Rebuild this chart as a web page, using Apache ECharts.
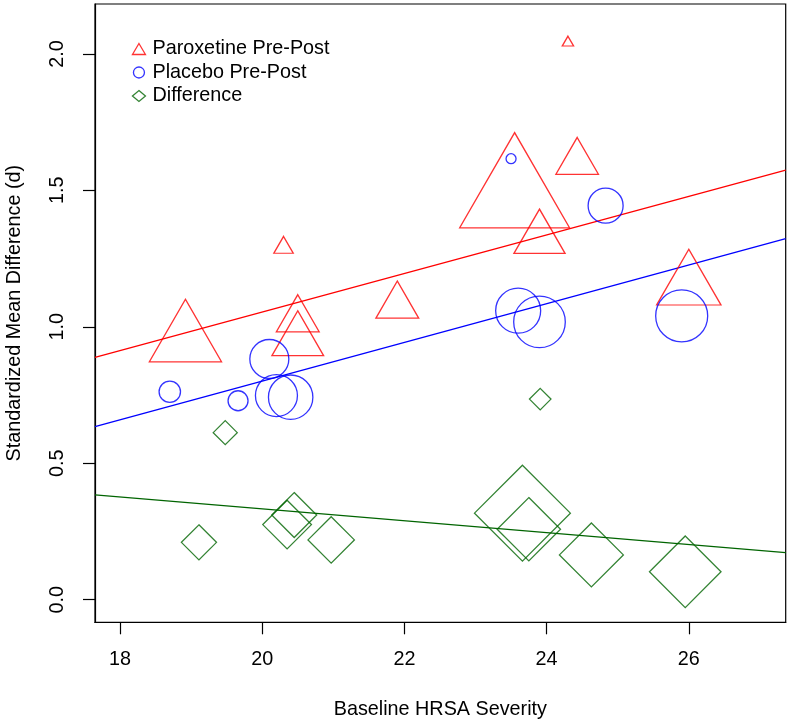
<!DOCTYPE html>
<html>
<head>
<meta charset="utf-8">
<script src="https://cdn.jsdelivr.net/npm/echarts@6/dist/echarts.min.js"></script>
<style>html,body{margin:0;padding:0;background:#fff}#c{width:790px;height:722px}</style>
</head>
<body>
<div id="c"></div>
<script>
// ---- data ----
var seriesNames = ['Paroxetine Pre-Post', 'Placebo Pre-Post', 'Difference'];

var paroxetineX = [18.92, 20.30, 20.50, 20.50, 21.90, 23.55, 23.90, 24.30, 24.43, 26.00];
var paroxetineY = [0.948, 1.290, 1.027, 0.949, 1.077, 1.479, 1.323, 2.041, 1.604, 1.148];
var paroxetineWeight = [26.8, 7.2, 15.9, 19.2, 15.9, 40.8, 19.0, 4.2, 15.8, 23.9];

var placeboX = [18.70, 19.66, 20.10, 20.20, 20.40, 23.50, 23.60, 23.90, 24.83, 25.90];
var placeboY = [0.762, 0.729, 0.882, 0.748, 0.742, 1.616, 1.059, 1.018, 1.444, 1.040];
var placeboWeight = [10.7, 10.0, 19.5, 21.0, 22.2, 5.0, 22.5, 25.8, 17.5, 26.0];

var differenceX = [19.11, 19.48, 20.35, 20.45, 20.97, 23.66, 23.75, 23.91, 24.63, 25.95];
var differenceY = [0.210, 0.612, 0.275, 0.310, 0.219, 0.317, 0.258, 0.735, 0.164, 0.102];
var differenceWeight = [12.4, 8.5, 17.2, 15.9, 16.4, 33.9, 22.4, 7.6, 22.6, 25.3];

// fitted lines (value at left and right edge of plot)
var fitX = [17.648, 27.363];
var paroxetineFitY = [0.888, 1.574];
var placeboFitY = [0.634, 1.323];
var differenceFitY = [0.384, 0.172];

var xTicks = [18, 20, 22, 24, 26];
var yTicks = [0, 0.5, 1.0, 1.5, 2.0];
var xRange = [17.648, 27.363];
var yRange = [-0.083, 2.183];

// ---- styling ----
var RED = '#ff0000', BLUE = '#0000ff', GREEN = '#006400';
var FONT = 'Liberation Sans, Arial, Helvetica, sans-serif';
var FS = 19.8;
var LW = 1.3;

function triData(xs, ys, ws) {
  return xs.map(function (x, i) {
    var r = ws[i];
    var w = 2.6936 * r, h = 2.3327 * r;
    return { value: [x, ys[i]], symbolSize: [w, h], symbolOffset: [0, -h / 6] };
  });
}
function circData(xs, ys, ws) {
  return xs.map(function (x, i) {
    return { value: [x, ys[i]], symbolSize: 2 * ws[i] };
  });
}
function diaData(xs, ys, ws) {
  return xs.map(function (x, i) {
    var d = 2.8284 * ws[i];
    return { value: [x, ys[i]], symbolSize: [d, d] };
  });
}
function lineData(xs, ys) {
  return xs.map(function (x, i) { return [x, ys[i]]; });
}
function hollow(c) {
  return { color: 'rgba(0,0,0,0)', borderColor: c, borderWidth: LW };
}

var axisLineStyle = { show: true, onZero: false, lineStyle: { color: '#000', width: 1.2 } };

var chart = echarts.init(document.getElementById('c'), null, { renderer: 'canvas' });
chart.setOption({
  animation: false,
  backgroundColor: '#ffffff',
  textStyle: { fontFamily: FONT },
  grid: {
    left: 95, top: 4, right: 4.3, bottom: 99.7,
    containLabel: false, outerBoundsMode: 'none',
    show: true, borderColor: '#000', borderWidth: 1.2, backgroundColor: 'transparent'
  },
  legend: {
    orient: 'vertical',
    left: 126.8, top: 34,
    itemWidth: 13, itemHeight: 11, itemGap: 3.5,
    textStyle: { fontSize: FS, color: '#000', fontFamily: FONT, padding: [0, 0, 0, 2] },
    data: [
      { name: seriesNames[0], icon: 'triangle', itemStyle: hollow(RED) },
      { name: seriesNames[1], icon: 'circle', itemStyle: hollow(BLUE) },
      { name: seriesNames[2], icon: 'diamond', itemStyle: hollow(GREEN) }
    ]
  },
  xAxis: {
    type: 'value', min: xRange[0], max: xRange[1],
    name: 'Baseline HRSA Severity', nameLocation: 'middle', nameGap: 77,
    nameTextStyle: { fontSize: FS, color: '#000', fontFamily: FONT },
    axisLine: axisLineStyle,
    splitLine: { show: false },
    axisTick: { show: true, inside: false, length: 12, customValues: xTicks, lineStyle: { color: '#000', width: 1.2 } },
    axisLabel: { customValues: xTicks, fontSize: FS, color: '#000', margin: 27, fontFamily: FONT,
      formatter: function (v) { return String(v); } }
  },
  yAxis: {
    type: 'value', min: yRange[0], max: yRange[1],
    name: 'Standardized Mean Difference (d)', nameLocation: 'middle', nameGap: 70,
    nameTextStyle: { fontSize: FS, color: '#000', fontFamily: FONT },
    axisLine: axisLineStyle,
    splitLine: { show: false },
    axisTick: { show: true, inside: false, length: 12, customValues: yTicks, lineStyle: { color: '#000', width: 1.2 } },
    axisLabel: { customValues: yTicks, fontSize: FS, color: '#000', margin: 27, rotate: 90, fontFamily: FONT,
      formatter: function (v) { return v.toFixed(1); } }
  },
  series: [
    { name: seriesNames[0], type: 'scatter', symbol: 'triangle', itemStyle: hollow(RED),
      data: triData(paroxetineX, paroxetineY, paroxetineWeight), z: 3 },
    { name: seriesNames[1], type: 'scatter', symbol: 'circle', itemStyle: hollow(BLUE),
      data: circData(placeboX, placeboY, placeboWeight), z: 3 },
    { name: seriesNames[2], type: 'scatter', symbol: 'diamond', itemStyle: hollow(GREEN),
      data: diaData(differenceX, differenceY, differenceWeight), z: 3 },
    { name: 'Paroxetine fit', type: 'line', symbol: 'none', silent: true,
      lineStyle: { color: RED, width: LW }, data: lineData(fitX, paroxetineFitY), z: 2 },
    { name: 'Placebo fit', type: 'line', symbol: 'none', silent: true,
      lineStyle: { color: BLUE, width: LW }, data: lineData(fitX, placeboFitY), z: 2 },
    { name: 'Difference fit', type: 'line', symbol: 'none', silent: true,
      lineStyle: { color: GREEN, width: LW }, data: lineData(fitX, differenceFitY), z: 2 }
  ]
});
</script>
</body>
</html>
